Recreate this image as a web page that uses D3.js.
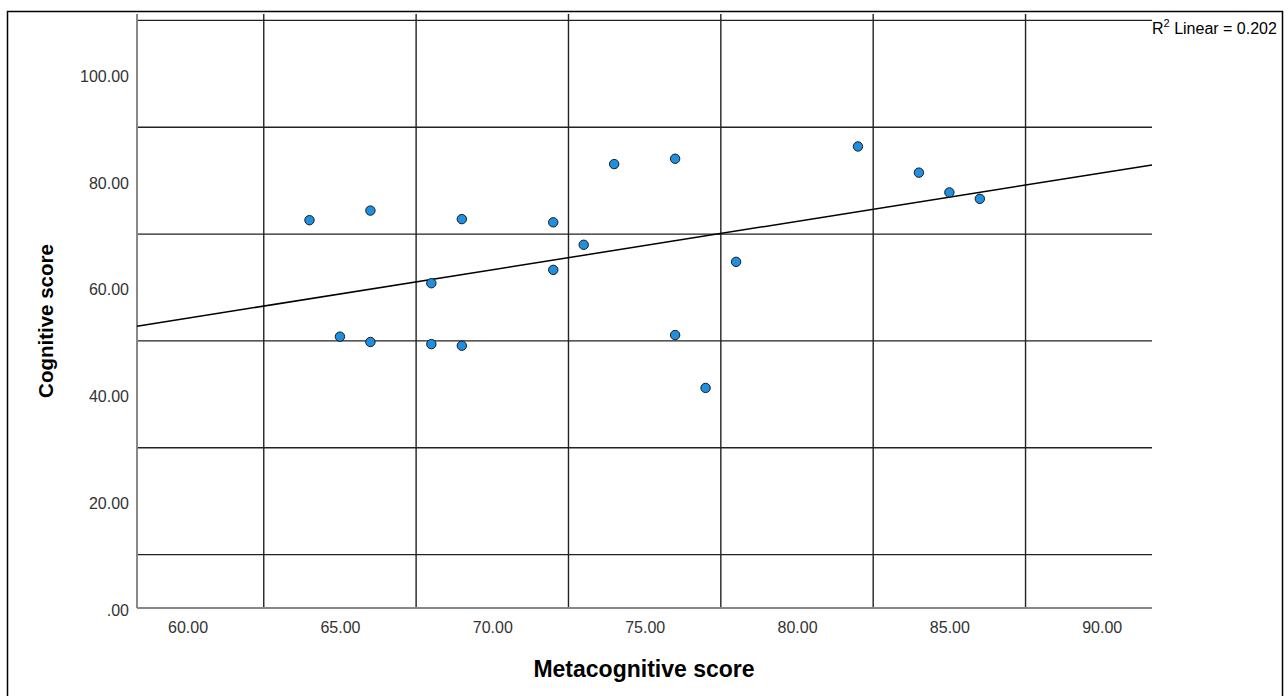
<!DOCTYPE html>
<html>
<head>
<meta charset="utf-8">
<script src="https://cdn.jsdelivr.net/npm/d3@7"></script>
<style>
  body { margin: 0; background: #fff; }
  text { font-family: "Liberation Sans", Arial, sans-serif; }
</style>
</head>
<body>
<svg id="chart" width="1288" height="696"></svg>
<script>
// data
const metacognitive = [64, 66, 69, 72, 74, 76, 73, 72, 68, 65, 66, 68, 69, 76, 78, 77, 82, 84, 85, 86];
const cognitive     = [72.6, 74.4, 72.8, 72.2, 83.1, 84.1, 68.0, 63.3, 60.8, 50.8, 49.8, 49.4, 49.1, 51.1, 64.8, 41.2, 86.4, 81.5, 77.8, 76.6];
const xTicks = [60, 65, 70, 75, 80, 85, 90];
const yTicks = [0, 20, 40, 60, 80, 100];
const xGrid = [62.5, 67.5, 72.5, 77.5, 82.5, 87.5];
const yGrid = [10, 30, 50, 70, 90, 110];
const r2Label = '0.202';

const svg = d3.select('#chart');

// outer frame
svg.append('rect').attr('x', 7.5).attr('y', 11.5).attr('width', 1275).attr('height', 700)
  .attr('fill', 'none').attr('stroke', '#000').attr('stroke-width', 1.5);

const pLeft = 137, pRight = 1152, pTop = 14, pBottom = 608;
const x = d3.scaleLinear().domain([58.34, 91.65]).range([pLeft, pRight]);
const y = d3.scaleLinear().domain([0, 111.2]).range([pBottom, pTop]);

const fmt = v => v === 0 ? '.00' : d3.format('.2f')(v);

// gridlines
svg.append('g').selectAll('line').data(yGrid).join('line')
  .attr('x1', pLeft).attr('x2', pRight)
  .attr('y1', d => y(d)).attr('y2', d => y(d))
  .attr('stroke', '#222').attr('stroke-width', 1.4);
svg.append('g').selectAll('line').data(xGrid).join('line')
  .attr('x1', d => x(d)).attr('x2', d => x(d))
  .attr('y1', pTop).attr('y2', pBottom)
  .attr('stroke', '#222').attr('stroke-width', 1.4);

// axes (no tick marks, SPSS style)
const xAxis = svg.append('g').attr('transform', `translate(0,${pBottom})`)
  .call(d3.axisBottom(x).tickValues(xTicks).tickFormat(fmt).tickSize(0).tickPadding(14));
const yAxis = svg.append('g').attr('transform', `translate(${pLeft},0)`)
  .call(d3.axisLeft(y).tickValues(yTicks).tickFormat(fmt).tickSize(0).tickPadding(8));
[xAxis, yAxis].forEach(a => {
  a.select('.domain').attr('stroke', '#888').attr('stroke-width', 2);
  a.selectAll('text').attr('font-size', 16).attr('fill', '#333')
    .attr('font-family', '"Liberation Sans", Arial, sans-serif');
});
yAxis.selectAll('text').attr('dy', '0.46em');
xAxis.select('.domain').attr('d', `M${pLeft},0H${pRight}`);
yAxis.select('.domain').attr('d', `M0,${pTop}V${pBottom}`);

// least squares fit line
const mx = d3.mean(metacognitive), my = d3.mean(cognitive);
let sxy = 0, sxx = 0;
metacognitive.forEach((v, i) => { sxy += (v - mx) * (cognitive[i] - my); sxx += (v - mx) * (v - mx); });
const slope = sxy / sxx, icpt = my - slope * mx;
const x0 = x.domain()[0], x1 = x.domain()[1];
svg.append('line')
  .attr('x1', x(x0)).attr('y1', y(icpt + slope * x0))
  .attr('x2', x(x1)).attr('y2', y(icpt + slope * x1))
  .attr('stroke', '#000').attr('stroke-width', 1.5);

// points
svg.append('g').selectAll('circle').data(metacognitive).join('circle')
  .attr('cx', d => x(d)).attr('cy', (d, i) => y(cognitive[i]))
  .attr('r', 4.7).attr('fill', '#1e8fe1').attr('stroke', '#1a1a1a').attr('stroke-width', 1);

// R squared label
const rl = svg.append('text').attr('x', 1152).attr('y', 34).attr('font-size', 16).attr('fill', '#000');
rl.append('tspan').text('R');
rl.append('tspan').text('2').attr('font-size', 11).attr('dy', -7);
rl.append('tspan').text(' Linear = ' + r2Label).attr('dy', 7);

// axis titles
svg.append('text').attr('x', 644).attr('y', 677).attr('text-anchor', 'middle')
  .attr('font-size', 23).attr('font-weight', 'bold').text('Metacognitive score');
svg.append('text').attr('transform', 'translate(53,321) rotate(-90)').attr('text-anchor', 'middle')
  .attr('font-size', 20.5).attr('font-weight', 'bold').text('Cognitive score');
</script>
</body>
</html>
